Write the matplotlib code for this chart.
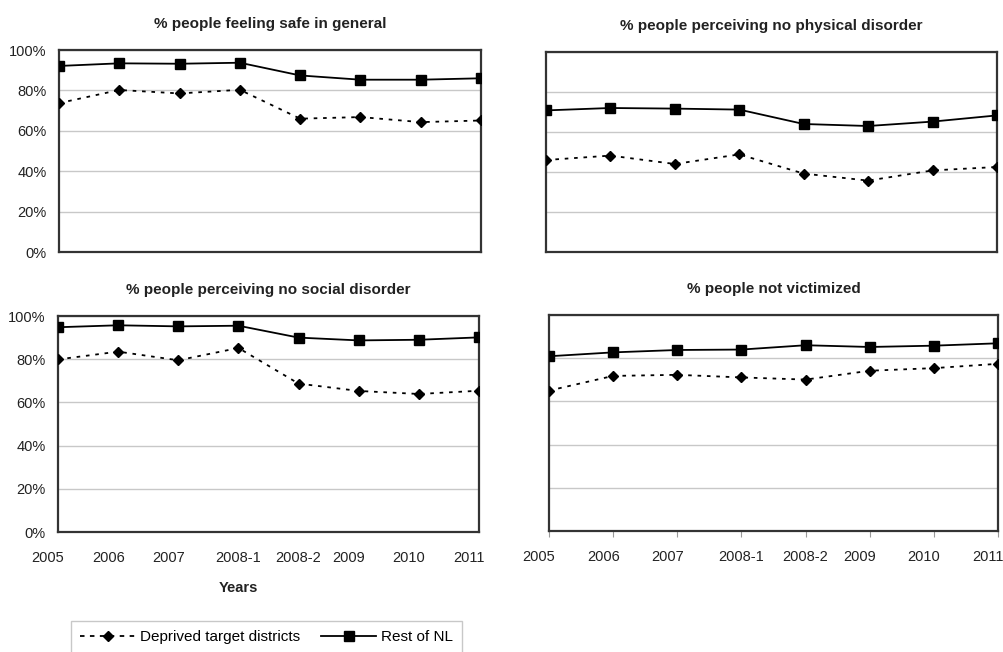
import matplotlib.pyplot as plt
from matplotlib.ticker import PercentFormatter
from matplotlib.transforms import ScaledTranslation
from matplotlib.lines import Line2D

plt.rcParams['font.family'] = ['Liberation Sans', 'DejaVu Sans']

years = ['2005', '2006', '2007', '2008-1', '2008-2', '2009', '2010', '2011']

titles = ['% people feeling safe in general',
          '% people perceiving no physical disorder',
          '% people perceiving no social disorder',
          '% people not victimized']

# values in %
deprived_safe = [73.7, 80.2, 78.5, 80.3, 66.0, 66.8, 64.3, 65.1]
rest_safe = [92.1, 93.4, 93.2, 93.7, 87.4, 85.3, 85.3, 86.0]

deprived_physical = [46.0, 48.2, 44.0, 48.8, 39.2, 35.7, 40.8, 42.5]
rest_physical = [70.8, 72.0, 71.7, 71.2, 64.0, 63.0, 65.2, 68.3]

deprived_social = [79.9, 83.5, 79.5, 85.2, 68.7, 65.3, 63.9, 65.4]
rest_social = [94.8, 95.7, 95.2, 95.5, 90.0, 88.7, 89.0, 90.1]

deprived_victim = [65.0, 71.8, 72.3, 71.1, 70.1, 74.2, 75.4, 77.4]
rest_victim = [80.9, 82.7, 83.8, 84.0, 86.0, 85.2, 85.8, 86.9]

deprived = [deprived_safe, deprived_physical, deprived_social, deprived_victim]
rest = [rest_safe, rest_physical, rest_social, rest_victim]

fig = plt.figure(figsize=(10.04, 6.52), dpi=100)

# axes boxes in pixels (left, top, right, bottom)
boxes = [(59, 50, 481, 252), (546, 52, 997, 252),
         (58, 316, 479, 532), (549, 315, 998, 531)]

W, H = 1004.0, 652.0
dotted = (0, (2, 3.2))

for i, (l, t, r, b) in enumerate(boxes):
    ax = fig.add_axes([l / W, 1 - b / H, (r - l) / W, (b - t) / H])
    x = list(range(len(years)))
    ax.plot(x, deprived[i], color='black', linestyle=dotted, linewidth=1.3,
            marker='D', markersize=5.5, zorder=3)
    ax.plot(x, rest[i], color='black', linestyle='-', linewidth=1.3,
            marker='s', markersize=7.5, zorder=3)
    ax.set_xlim(0, 7)
    ax.set_ylim(0, 100)
    ax.set_yticks([0, 20, 40, 60, 80, 100])
    ax.yaxis.set_major_formatter(PercentFormatter(decimals=0))
    ax.grid(axis='y', color='#c8c8c8', linewidth=1.0)
    ax.set_axisbelow(True)
    for s in ax.spines.values():
        s.set_color('#333333')
        s.set_linewidth(1.6)
    ax.tick_params(axis='y', length=0, pad=9, labelsize=10.5, labelcolor='#222222')
    if i % 2 == 1:
        ax.tick_params(axis='y', labelleft=False)
    ax.set_xticks(x)
    if i >= 2:
        ax.set_xticklabels(years)
        ax.tick_params(axis='x', labelsize=10.5, labelcolor='#222222',
                       length=4 if i == 3 else 0, color='#999999',
                       pad=10 if i == 3 else 14)
        for lab in ax.get_xticklabels():
            if len(lab.get_text()) == 4:
                lab.set_transform(lab.get_transform() +
                                  ScaledTranslation(-0.1, 0, fig.dpi_scale_trans))
    else:
        ax.tick_params(axis='x', labelbottom=False, length=0)
    ax.set_title(titles[i], fontsize=11, fontweight='bold', pad=16,
                 color='#222222')

fig.text(238 / W, 1 - 588 / H, 'Years', ha='center', va='center',
         fontsize=10.5, fontweight='bold', color='#222222')

handles = [Line2D([], [], color='black', linestyle=(0, (2.5, 3)), linewidth=1.3,
                  marker='D', markersize=5.5),
           Line2D([], [], color='black', linestyle='-', linewidth=1.3,
                  marker='s', markersize=7.5)]
leg = fig.legend(handles, ['Deprived target districts', 'Rest of NL'],
                 loc='upper left', bbox_to_anchor=(71 / W, 1 - 621 / H),
                 ncol=2, fontsize=11, frameon=True, fancybox=False,
                 edgecolor='#bbbbbb', handlelength=3.6, columnspacing=1.4,
                 borderaxespad=0, handletextpad=0.3, borderpad=0.6)
leg.get_frame().set_linewidth(1.0)

fig.savefig('out.png', dpi=100)
